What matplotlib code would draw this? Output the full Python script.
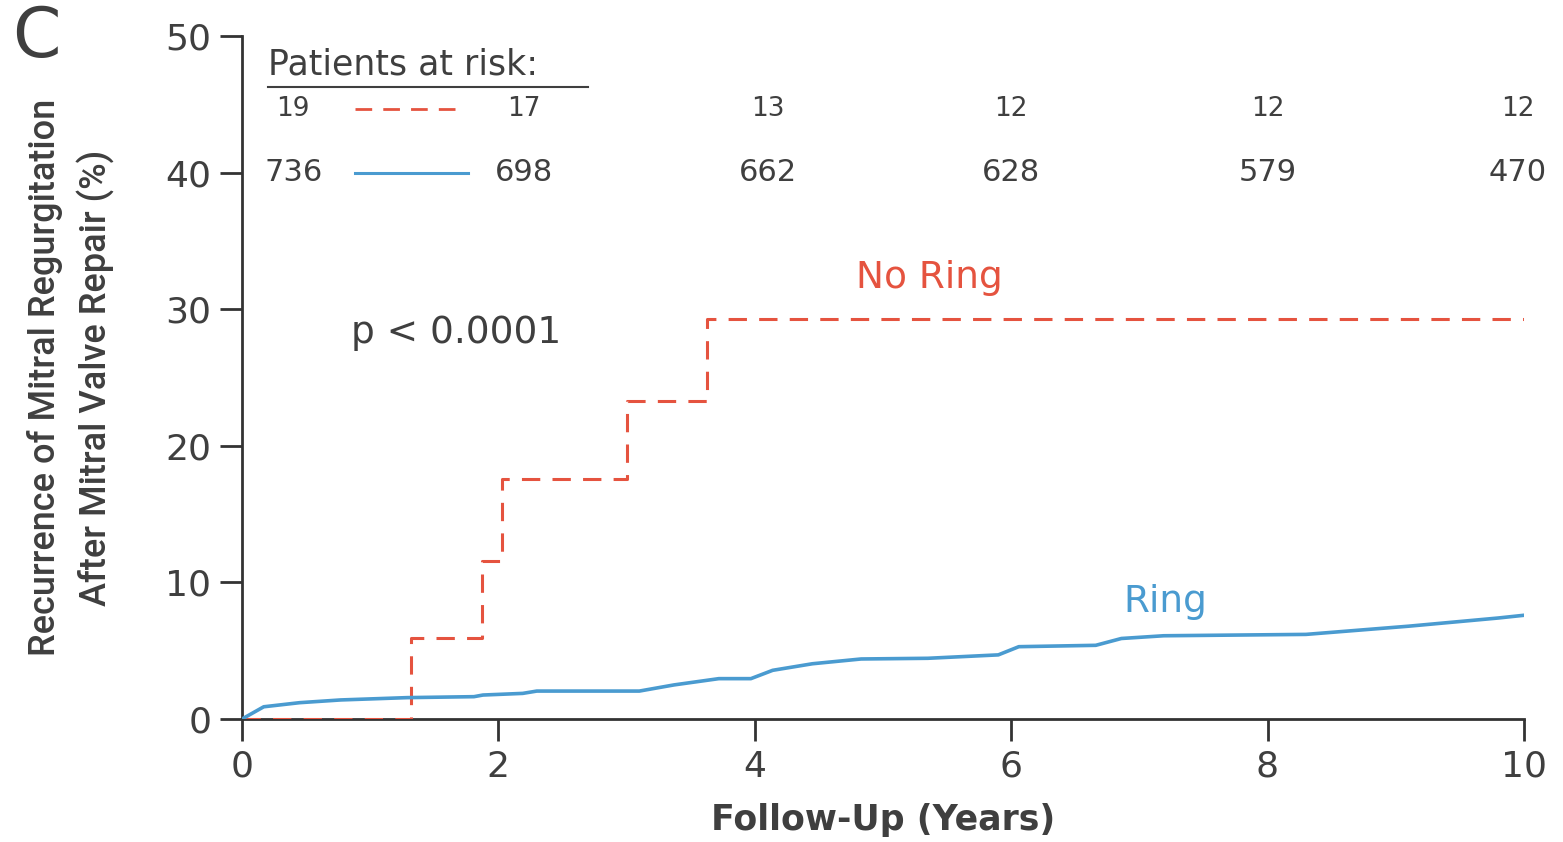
import matplotlib
matplotlib.use('Agg')
import matplotlib.pyplot as plt

plt.rcParams['font.family'] = ['DejaVu Sans']

# Cumulative incidence, Ring group (years, %)
ring_t = [0, 0.17, 0.45, 0.77, 1.29, 1.81, 1.88, 2.19, 2.3, 3.1, 3.37, 3.72, 3.97,
          4.14, 4.45, 4.83, 5.35, 5.9, 6.06, 6.66, 6.86, 7.19, 8.3, 9.1, 9.8, 10.0]
ring_y = [0, 0.9, 1.2, 1.4, 1.57, 1.64, 1.76, 1.88, 2.05, 2.05, 2.5, 2.96, 2.96,
          3.57, 4.05, 4.4, 4.45, 4.7, 5.3, 5.4, 5.9, 6.1, 6.2, 6.8, 7.4, 7.6]

# No Ring group, step function
noring_t = [0, 1.32, 1.87, 2.03, 3.0, 3.63, 10.0]
noring_y = [0, 5.9, 11.6, 17.6, 23.3, 29.3, 29.3]

# Patients at risk
risk_noring = ['19', '17', '13', '12', '12', '12']
risk_ring = ['736', '698', '662', '628', '579', '470']
risk_x = [0.4, 2.2, 4.1, 6.0, 8.0, 9.95]

red = '#e5533f'
blue = '#4a9bd0'
txt = '#3f3f3f'

fig = plt.figure(figsize=(15.63, 8.42), dpi=100)
ax = fig.add_axes([0.1548, 0.146, 0.975 - 0.1548, 0.957 - 0.146])

ax.plot(noring_t, noring_y, drawstyle='steps-post', color=red, linewidth=2.2,
        dashes=(6, 4), zorder=3)
ax.plot(ring_t, ring_y, color=blue, linewidth=2.6, zorder=4)

ax.set_xlim(0, 10)
ax.set_ylim(0, 50)
ax.set_xticks([0, 2, 4, 6, 8, 10])
ax.set_yticks([0, 10, 20, 30, 40, 50])

for s in ['top', 'right']:
    ax.spines[s].set_visible(False)
for s in ['left', 'bottom']:
    ax.spines[s].set_linewidth(2)
    ax.spines[s].set_color('#333333')

ax.tick_params(axis='both', direction='out', length=16, width=2, color='#333333',
               labelsize=26, labelcolor=txt, pad=6)

ax.set_xlabel('Follow-Up (Years)', fontsize=25, color=txt, fontweight='bold',
              labelpad=14)
ax.set_ylabel('Recurrence of Mitral Regurgitation\nAfter Mitral Valve Repair (%)',
              fontsize=26, color=txt, labelpad=36, linespacing=1.5,
              family='Roboto', fontweight='medium')

fig.text(0.008, 0.995, 'C', fontsize=50, color=txt, va='top', ha='left')

# Group labels and p-value
ax.text(5.36, 32.3, 'No Ring', color=red, fontsize=27, ha='center', va='center')
ax.text(7.2, 8.6, 'Ring', color=blue, fontsize=27, ha='center', va='center')
ax.text(1.67, 28.3, 'p < 0.0001', color=txt, fontsize=27, ha='center', va='center')

# Patients at risk table
ax.text(0.2, 47.9, 'Patients at risk:', fontsize=25, color=txt, ha='left',
        va='center')
ax.plot([0.2, 2.7], [46.3, 46.3], color=txt, linewidth=1.5)
for x, a, b in zip(risk_x, risk_noring, risk_ring):
    ax.text(x, 44.7, a, fontsize=19, color=txt, ha='center', va='center')
    ax.text(x, 40.0, b, fontsize=22, color=txt, ha='center', va='center')
ax.plot([0.88, 1.74], [44.7, 44.7], color=red, linewidth=2, dashes=(6, 4))
ax.plot([0.88, 1.76], [40.0, 40.0], color=blue, linewidth=2.2)

plt.savefig('out.png', dpi=100)
